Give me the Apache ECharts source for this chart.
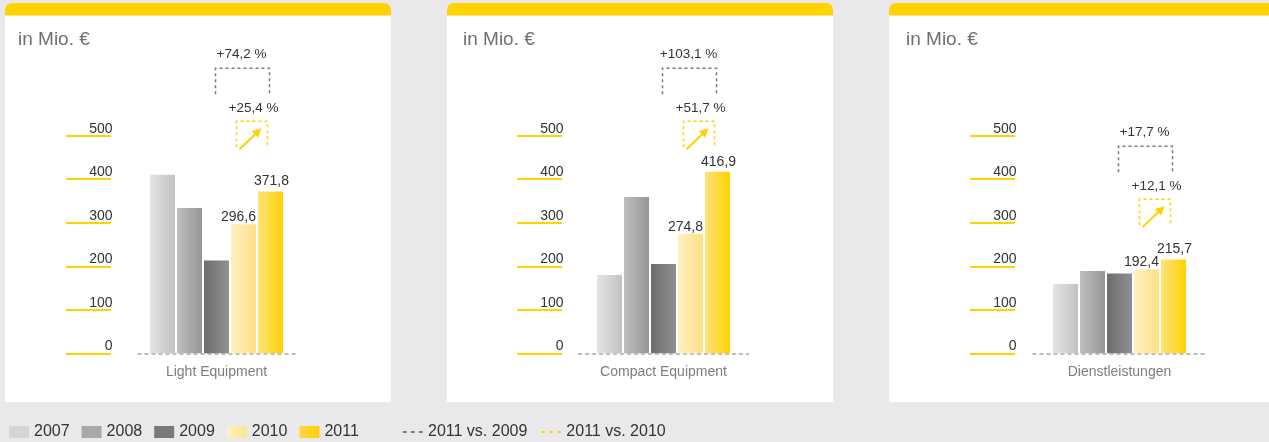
<!DOCTYPE html>
<html><head><meta charset="utf-8">
<script src="https://cdn.jsdelivr.net/npm/echarts/dist/echarts.min.js"></script>
<style>html,body{margin:0;padding:0;background:#e9e9eb}#c{width:1269px;height:442px}</style>
</head><body><div id="c"></div>
<script>
// ---- data ----
const categories = ['Light Equipment', 'Compact Equipment', 'Dienstleistungen'];
const years = ['2007', '2008', '2009', '2010', '2011'];
const values2007 = [410, 180, 159];
const values2008 = [334, 359, 189];
const values2009 = [213.4, 205.3, 183.3];
const values2010 = [296.6, 274.8, 192.4];
const values2011 = [371.8, 416.9, 215.7];
const growth2011vs2009 = ['+74,2 %', '+103,1 %', '+17,7 %'];
const growth2011vs2010 = ['+25,4 %', '+51,7 %', '+12,1 %'];
const yTicks = [0, 100, 200, 300, 400, 500];
const unitLabel = 'in Mio. €';
const compareLabels = ['2011 vs. 2009', '2011 vs. 2010'];

// ---- layout / style ----
const FONT = '"Liberation Sans", Arial, Helvetica, sans-serif';
const YELLOW = '#ffd200';
const panels = [
  { x: 5,   w: 386, titleX: 18,  axisX: 111,  gridL: 138,   gridW: 157, annot: 655 },
  { x: 447, w: 386, titleX: 463, axisX: 562,  gridL: 578.5, gridW: 170, annot: 655 },
  { x: 889, w: 400, titleX: 906, axisX: 1015, gridL: 1033,  gridW: 173, annot: 476 }
];
const GRID_TOP = 135.7, GRID_H = 217.6;
function grad(a, b) {
  return new echarts.graphic.LinearGradient(0, 0, 1, 0, [{ offset: 0, color: a }, { offset: 1, color: b }]);
}
const yearColors = [
  grad('#e4e4e6', '#c2c2c4'),
  grad('#bfbfc1', '#969698'),
  grad('#6d6d6f', '#909092'),
  grad('#fff1c2', '#fddf86'),
  grad('#fee27c', '#ffd200')
];
const legendYearColors = ['#d4d4d6', '#a9a9ab', '#79797b', grad('#fff1c4', '#fde28e'), grad('#ffd84c', '#ffd000')];
const yearValues = [values2007, values2008, values2009, values2010, values2011];
const fmt = v => v.toFixed(1).replace('.', ',');
// dashed-line legend icon (20x12 box, three short dashes in the middle)
const DASH_ICON = 'path://M0,0h0.01v0.01h-0.01z M0,5h3.6v2h-3.6z M8,5h3.6v2h-3.6z M16,5h3.6v2h-3.6z M19.99,11.99h0.01v0.01h-0.01z';

const grids = [], xAxes = [], yAxes = [], series = [];
panels.forEach((p, pi) => {
  grids.push({ left: p.gridL, width: p.gridW, top: GRID_TOP, height: GRID_H, containLabel: false, outerBoundsMode: 'none' });
  xAxes.push({
    gridIndex: pi, type: 'category', data: [categories[pi]],
    axisLine: { show: true, lineStyle: { color: '#a8a8a8', width: 1.5, type: [3, 4] } },
    axisTick: { show: false },
    axisLabel: { margin: 12, fontSize: 14, color: '#7d7d7d', fontFamily: FONT },
    splitLine: { show: false }
  });
  yAxes.push({
    gridIndex: pi, type: 'value', min: yTicks[0], max: yTicks[yTicks.length - 1], interval: 100,
    position: 'left', offset: p.gridL - p.axisX,
    axisLine: { show: false },
    axisTick: { show: true, length: 45, lineStyle: { color: YELLOW, width: 2 } },
    axisLabel: { margin: -1.5, align: 'right', verticalAlign: 'bottom', lineHeight: 14, fontSize: 14, color: '#333', fontFamily: FONT },
    splitLine: { show: false }
  });
  years.forEach((y, yi) => {
    const s = {
      type: 'bar', name: y, xAxisIndex: pi, yAxisIndex: pi,
      data: [yearValues[yi][pi]],
      barWidth: 25, barGap: '8%',
      itemStyle: { color: yearColors[yi] },
      emphasis: { disabled: true },
      label: { show: false }
    };
    if (yi >= 3) {
      s.label = {
        show: true, position: 'top', distance: yi === 3 ? 0 : 3,
        offset: [yi === 3 ? -5 : 1, 0],
        formatter: o => fmt(o.value), fontSize: 14, color: '#333', fontFamily: FONT
      };
    }
    series.push(s);
  });
});
const compareColors = ['#7a7a7a', YELLOW];
compareLabels.forEach((n, i) => {
  series.push({
    type: 'line', name: n, xAxisIndex: 0, yAxisIndex: 0, data: [], symbol: 'none',
    lineStyle: { color: compareColors[i], width: 2, type: [3, 4] },
    itemStyle: { color: compareColors[i] }
  });
});

const chart = echarts.init(document.getElementById('c'), null, { renderer: 'canvas' });
chart.setOption({
  backgroundColor: '#e9e9eb',
  animation: false,
  textStyle: { fontFamily: FONT },
  grid: grids, xAxis: xAxes, yAxis: yAxes, series: series,
  legend: [
    {
      data: years.map((n, i) => ({ name: n, icon: 'rect', itemStyle: { color: legendYearColors[i] } })),
      left: 9, top: 424, padding: 0, itemWidth: 20, itemHeight: 12, itemGap: 12,
      selectedMode: false, textStyle: { fontSize: 16, color: '#333', fontFamily: FONT }
    },
    {
      data: compareLabels.map((n, i) => ({ name: n, icon: DASH_ICON, itemStyle: { color: compareColors[i] } })),
      left: 403, top: 424, padding: 0, itemWidth: 20, itemHeight: 12, itemGap: 14,
      selectedMode: false, textStyle: { fontSize: 16, color: '#333', fontFamily: FONT }
    }
  ]
});

// ---- panel backgrounds and comparison annotations ----
const gfx = [];
panels.forEach((p, pi) => {
  gfx.push({ type: 'rect', z: -10, silent: true, shape: { x: p.x, y: 15, width: p.w, height: 387 }, style: { fill: '#ffffff' } });
  gfx.push({ type: 'rect', z: -10, silent: true, shape: { x: p.x, y: 3, width: p.w, height: 12.5, r: [7, 7, 0, 0] }, style: { fill: YELLOW } });
  gfx.push({ type: 'text', z: 10, silent: true, x: p.titleX, y: 40,
    style: { text: unitLabel, fontSize: 19, fill: '#707070', fontFamily: FONT, verticalAlign: 'middle', align: 'left' } });

  const pt = chart.convertToPixel({ xAxisIndex: pi, yAxisIndex: pi }, [categories[pi], p.annot]);
  const C = pt[0], T = pt[1];
  // 2011 vs 2009
  gfx.push({ type: 'text', z: 10, silent: true, x: C + 25, y: T - 14,
    style: { text: growth2011vs2009[pi], fontSize: 13.5, fill: '#333', fontFamily: FONT, align: 'center', verticalAlign: 'middle' } });
  gfx.push({ type: 'polyline', z: 10, silent: true,
    shape: { points: [[C - 1, T + 26], [C - 1, T], [C + 53, T], [C + 53, T + 26]] },
    style: { stroke: '#7a7a7a', lineWidth: 1.5, lineDash: [3, 3], fill: null } });
  // 2011 vs 2010
  gfx.push({ type: 'text', z: 10, silent: true, x: C + 37, y: T + 40.5,
    style: { text: growth2011vs2010[pi], fontSize: 13.5, fill: '#333', fontFamily: FONT, align: 'center', verticalAlign: 'middle' } });
  const x1 = C + 20, x2 = C + 51, bt = T + 53, bb = T + 79;
  gfx.push({ type: 'polyline', z: 10, silent: true,
    shape: { points: [[x1, bb], [x1, bt], [x2, bt], [x2, bb]] },
    style: { stroke: YELLOW, lineWidth: 1.5, lineDash: [3, 3], fill: null } });
  const sx = x1 + 3, sy = bb + 2, ex = x1 + 25, ey = bt + 7;
  const dx = ex - sx, dy = ey - sy, len = Math.hypot(dx, dy), ux = dx / len, uy = dy / len;
  const hb = 9, hw = 4.5;
  const bx = ex - ux * hb, by = ey - uy * hb;
  gfx.push({ type: 'line', z: 10, silent: true, shape: { x1: sx, y1: sy, x2: bx + ux, y2: by + uy },
    style: { stroke: YELLOW, lineWidth: 2 } });
  gfx.push({ type: 'polygon', z: 10, silent: true,
    shape: { points: [[ex, ey], [bx - uy * hw, by + ux * hw], [bx + uy * hw, by - ux * hw]] },
    style: { fill: YELLOW } });
});
chart.setOption({ graphic: { elements: gfx } });
</script>
</body></html>
